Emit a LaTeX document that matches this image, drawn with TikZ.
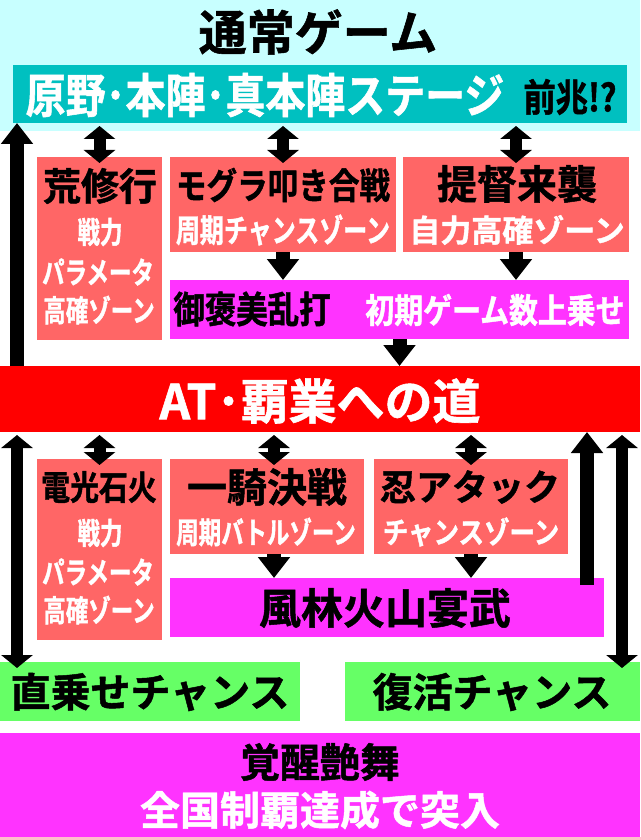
\documentclass[tikz,border=0pt]{standalone}
\usepackage{fontspec}
\usetikzlibrary{arrows.meta}
\newfontfamily\jpn{Noto Sans CJK JP Bold}[FakeBold=1.2]
\newfontfamily\jpnc{Noto Sans CJK JP Bold}[FakeStretch=0.85,FakeBold=1.2]
\newfontfamily\jpnn{Noto Sans CJK JP Bold}[FakeStretch=0.75,FakeBold=1.2]
\newcommand{\fsz}[1]{\fontsize{#1}{#1}\selectfont}
\definecolor{bgcyan}{RGB}{200,255,255}
\definecolor{stageteal}{RGB}{0,192,192}
\definecolor{zonered}{RGB}{255,102,102}
\definecolor{bonusmag}{RGB}{255,51,255}
\definecolor{atred}{RGB}{255,0,0}
\definecolor{chancegreen}{RGB}{102,255,102}
\begin{document}
\begin{tikzpicture}[x=1pt,y=-1pt,
  box/.style={rectangle,inner sep=0pt,outer sep=0pt},
  txt/.style={inner sep=0pt,outer sep=0pt},
  one/.style={line width=14pt,-{Triangle[width=31pt,length=21pt]}},
  two/.style={line width=12pt,shorten <=3pt,shorten >=-6pt,{Triangle[width=31pt,length=13pt]}-{Triangle[width=31pt,length=13pt]}}]
\useasboundingbox (0,0) rectangle (640,837);

\node[box,fill=bgcyan,minimum width=640pt,minimum height=131pt] (normal) at (320,65.5) {};
\node[box,fill=stageteal,minimum width=614pt,minimum height=58pt] (stage) at (320,94) {};
\node[box,fill=zonered,minimum width=125pt,minimum height=183pt] (ara) at (99.5,248.5) {};
\node[box,fill=zonered,minimum width=226pt,minimum height=95pt] (mogura) at (283,204.5) {};
\node[box,fill=zonered,minimum width=226pt,minimum height=95pt] (teitoku) at (516,204.5) {};
\node[box,fill=bonusmag,minimum width=459pt,minimum height=59pt] (bonus) at (399.5,309.5) {};
\node[box,fill=atred,minimum width=640pt,minimum height=66pt] (at) at (320,399) {};
\node[box,fill=zonered,minimum width=125pt,minimum height=181pt] (denko) at (99.5,549.5) {};
\node[box,fill=zonered,minimum width=194pt,minimum height=95pt] (ikki) at (267,506.5) {};
\node[box,fill=zonered,minimum width=194pt,minimum height=95pt] (shinobi) at (471,506.5) {};
\node[box,fill=bonusmag,minimum width=434pt,minimum height=59pt] (furin) at (387,607.5) {};
\node[box,fill=chancegreen,minimum width=300pt,minimum height=59pt] (direct) at (150,691.5) {};
\node[box,fill=chancegreen,minimum width=295pt,minimum height=59pt] (revive) at (492.5,691.5) {};
\node[box,fill=bonusmag,minimum width=640pt,minimum height=104pt] (kakusei) at (320,785) {};

\node[txt,font=\jpn\fsz{48}] (normaltxt) at (318,32) {通常ゲーム};
\node[txt,font=\jpnc\fsz{47},text=white] (stagetxt) at (265,95) {原野･本陣･真本陣ステージ};
\node[txt,font=\jpnc\fsz{38}] (zenchotxt) at (570,97) {前兆!?};
\node[txt,font=\jpn\fsz{38}] (aratxt) at (100,186) {荒修行};
\node[txt,font=\jpnn\fsz{30},text=white] (ara1) at (100,232) {戦力};
\node[txt,font=\jpnn\fsz{30},text=white] (ara2) at (98,272) {パラメータ};
\node[txt,font=\jpnn\fsz{30},text=white] (ara3) at (99,310) {高確ゾーン};
\node[txt,font=\jpnc\fsz{36}] (moguratxt) at (283,185) {モグラ叩き合戦};
\node[txt,font=\jpnn\fsz{32},text=white] (mogura1) at (283,230) {周期チャンスゾーン};
\node[txt,font=\jpn\fsz{40}] (teitokutxt) at (517,184) {提督来襲};
\node[txt,font=\jpn\fsz{31},text=white] (teitoku1) at (517,230) {自力高確ゾーン};
\node[txt,font=\jpnc\fsz{37}] (bonustxt) at (252,309) {御褒美乱打};
\node[txt,font=\jpnc\fsz{34},text=white] (bonus1) at (495,310) {初期ゲーム数上乗せ};
\node[txt,font=\jpn\fsz{48},text=white] (attxt) at (320,401) {AT･覇業への道};
\node[txt,font=\jpnc\fsz{34}] (denkotxt) at (99,487) {電光石火};
\node[txt,font=\jpnn\fsz{30},text=white] (denko1) at (100,533) {戦力};
\node[txt,font=\jpnn\fsz{30},text=white] (denko2) at (98,572) {パラメータ};
\node[txt,font=\jpnn\fsz{30},text=white] (denko3) at (99,610) {高確ゾーン};
\node[txt,font=\jpn\fsz{40}] (ikkitxt) at (267,487) {一騎決戦};
\node[txt,font=\jpnn\fsz{30},text=white] (ikki1) at (266,532) {周期バトルゾーン};
\node[txt,font=\jpn\fsz{36}] (shinobitxt) at (470,487) {忍アタック};
\node[txt,font=\jpnc\fsz{30},text=white] (shinobi1) at (471,532) {チャンスゾーン};
\node[txt,font=\jpn\fsz{42}] (furintxt) at (385,608) {風林火山宴武};
\node[txt,font=\jpn\fsz{40}] (directtxt) at (150,692) {直乗せチャンス};
\node[txt,font=\jpn\fsz{40}] (revivetxt) at (492,692) {復活チャンス};
\node[txt,font=\jpn\fsz{40}] (kakuseitxt) at (320,762) {覚醒艶舞};
\node[txt,font=\jpn\fsz{40},text=white] (kakusei1) at (320,810) {全国制覇達成で突入};

\coordinate (left) at (17,500);
\coordinate (rightup) at (587,585);
\coordinate (rightdbl) at (622,500);

\path[draw,two] (stage.south -| ara.north) -- (ara.north);
\path[draw,two] (stage.south -| mogura.north) -- (mogura.north);
\path[draw,two] (stage.south -| teitoku.north) -- (teitoku.north);
\path[draw,one] (left |- at.north) -- (left |- stage.south);
\path[draw,one] (mogura.south) -- (mogura.south |- bonus.north);
\path[draw,one] (teitoku.south) -- (teitoku.south |- bonus.north);
\path[draw,one] (bonus.south) -- (bonus.south |- at.north);

\path[draw,two] (at.south -| denko.north) -- (denko.north);
\path[draw,two] (at.south -| ikki.north) ++(7,0) -- ([xshift=7pt]ikki.north);
\path[draw,two] (at.south -| shinobi.north) -- (shinobi.north);
\path[draw,one] ([xshift=7pt]ikki.south) -- ([xshift=7pt]ikki.south |- furin.north);
\path[draw,one] (shinobi.south) -- (shinobi.south |- furin.north);
\path[draw,two] (left |- at.south) -- (left |- direct.north);
\path[draw,one] (rightup) -- (rightup |- at.south);
\path[draw,two] (rightdbl |- at.south) -- (rightdbl |- revive.north);
\end{tikzpicture}
\end{document}
